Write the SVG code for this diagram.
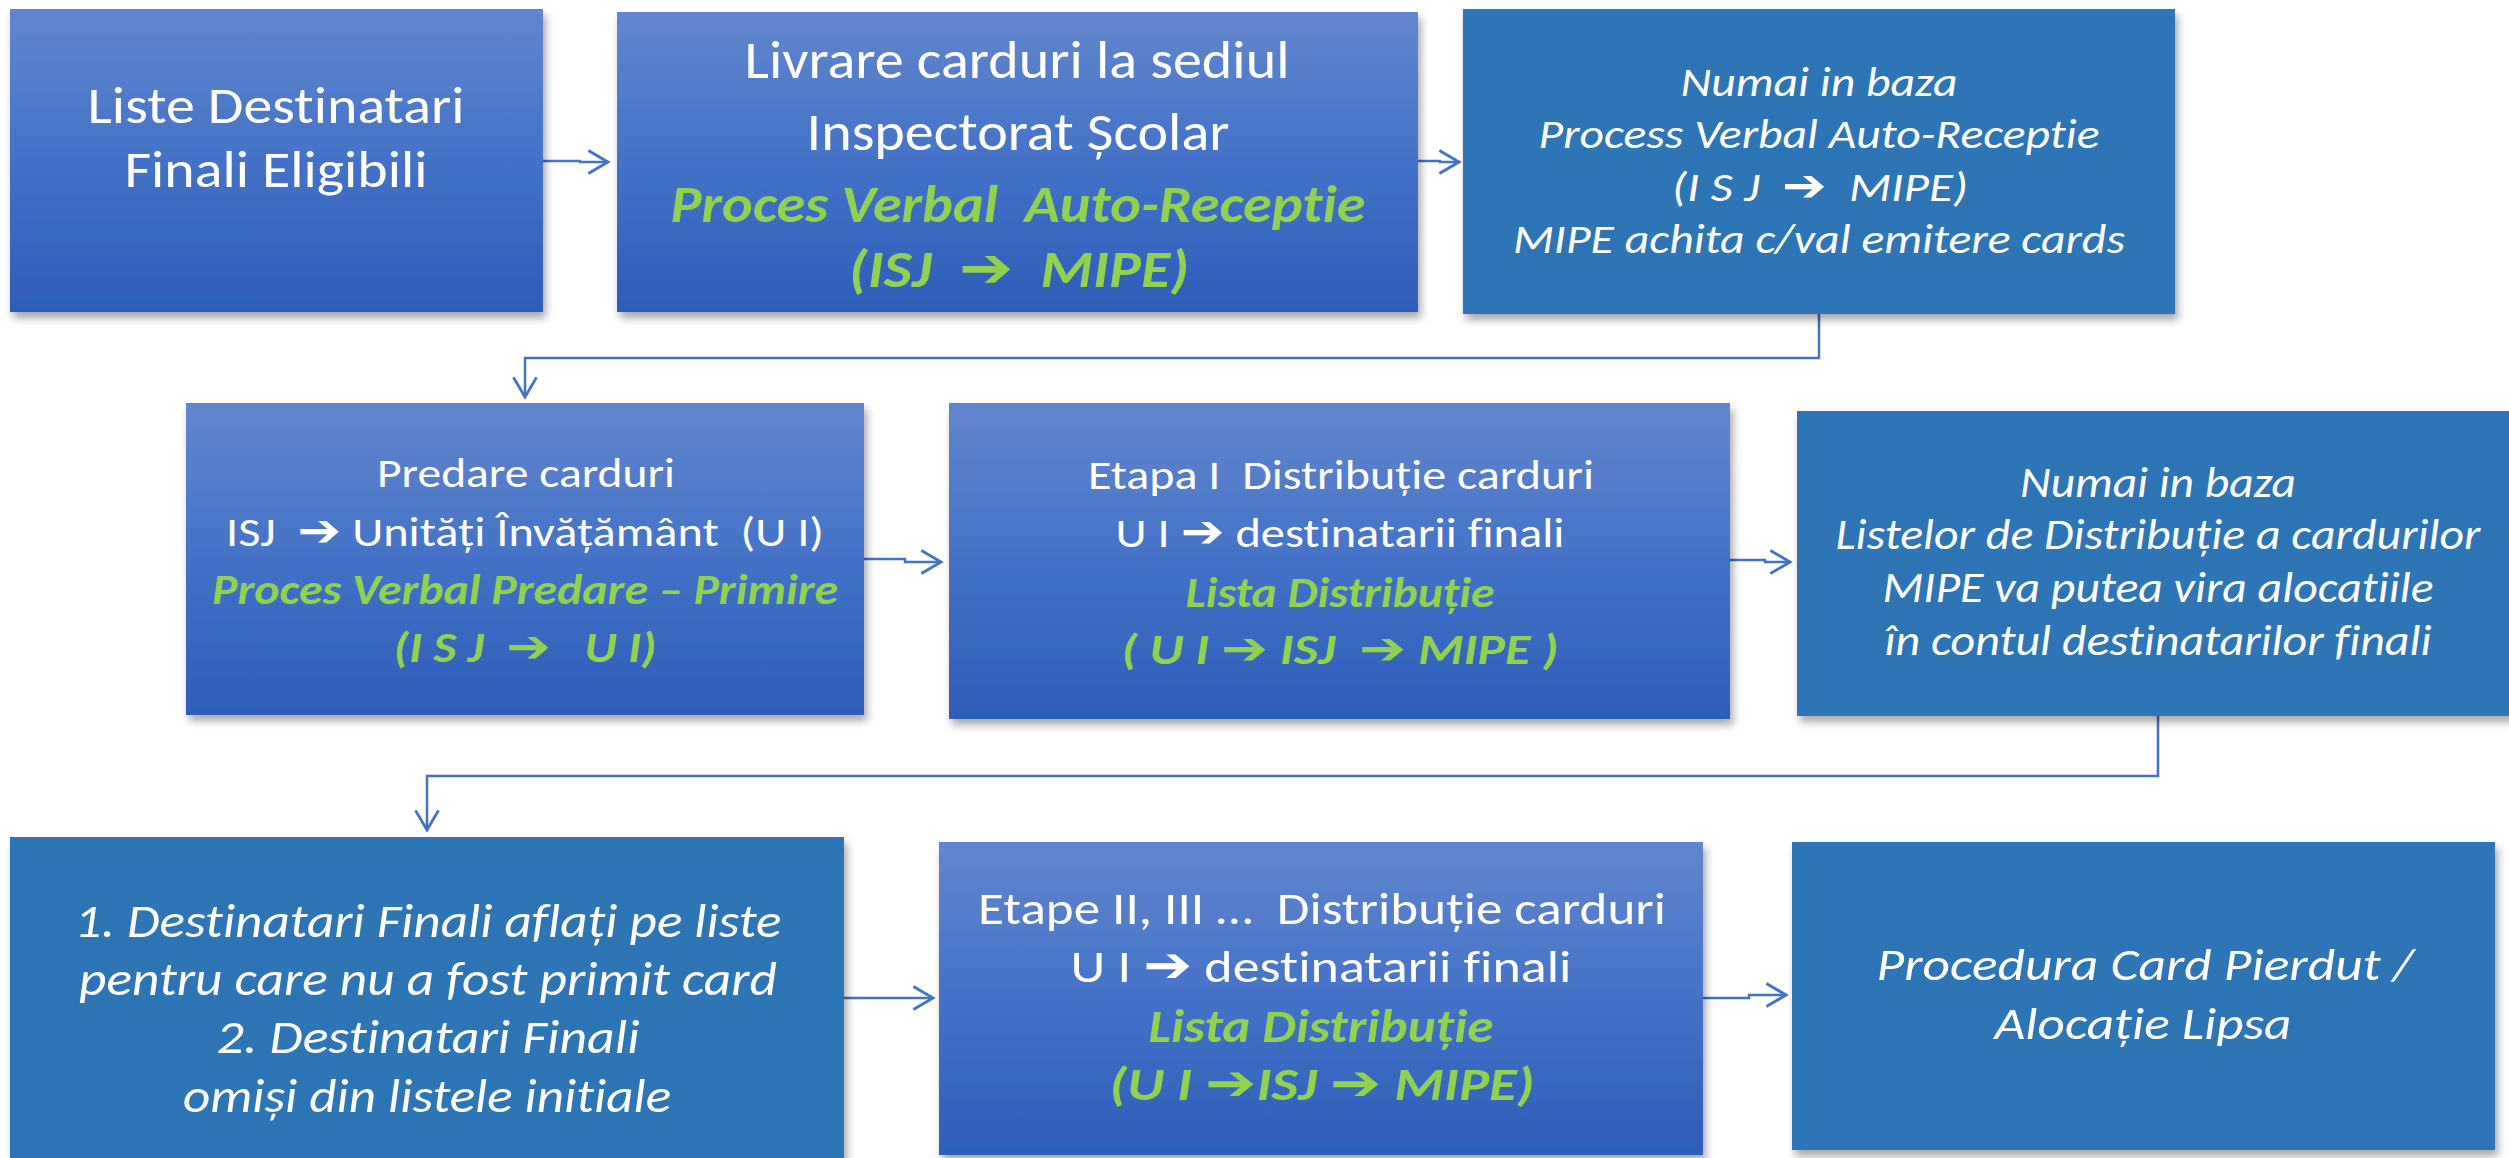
<svg xmlns="http://www.w3.org/2000/svg" width="2509" height="1158" viewBox="0 0 2509 1158">
<style>
.g{fill:url(#grad);filter:url(#sh)}
.s{fill:#2E75B6;filter:url(#sh)}
text{font-family:Carlito,Lato,"Noto Sans","DejaVu Sans",sans-serif;text-anchor:middle;fill:#FFFFFF;white-space:pre;font-variant-ligatures:none}
.i{font-style:italic}
.gr{fill:#92D050;font-weight:bold;font-style:italic}
.a{font-family:"DejaVu Sans",sans-serif;font-weight:bold;font-style:normal;font-size:108%}
.c{fill:none;stroke:#4472C4;stroke-width:2.5;marker-end:url(#ah)}
</style>
<defs>
<linearGradient id="grad" x1="0" y1="0" x2="0" y2="1">
<stop offset="0" stop-color="#6286CD"/>
<stop offset="0.5" stop-color="#4472C7"/>
<stop offset="1" stop-color="#2E5DB8"/>
</linearGradient>
<filter id="sh" x="-5%" y="-5%" width="115%" height="120%">
<feDropShadow dx="3" dy="6" stdDeviation="4" flood-color="#000" flood-opacity="0.35"/>
</filter>
<marker id="ah" markerUnits="userSpaceOnUse" markerWidth="30" markerHeight="30" viewBox="-20 -13 24 26" refX="0" refY="0" orient="auto">
<path d="M-17,-10 L0,0 L-17,10" fill="none" stroke="#4472C4" stroke-width="2.5"/>
</marker>
</defs>

<g id="connectors">
<path class="c" d="M543,161 H580 V162 H608"/>
<path class="c" d="M1418,161 H1440 V162 H1459"/>
<path class="c" d="M1819,314 V358 H525 V397"/>
<path class="c" d="M864,559 H905 V562 H941"/>
<path class="c" d="M1730,560 H1765 V562 H1790"/>
<path class="c" d="M2158,716 V776 H427 V830"/>
<path class="c" d="M844,998 H933"/>
<path class="c" d="M1703,998 H1749 V995 H1786"/>
</g>

<g id="n1">
<rect class="g" x="10" y="9" width="533" height="303"/>
<text x="276" y="123" font-size="52" textLength="377" lengthAdjust="spacingAndGlyphs">Liste Destinatari</text>
<text x="276" y="187" font-size="52" textLength="303" lengthAdjust="spacingAndGlyphs">Finali Eligibili</text>
</g>

<g id="n2">
<rect class="g" x="617" y="12" width="801" height="300"/>
<text x="1017" y="78" font-size="54" textLength="545" lengthAdjust="spacingAndGlyphs">Livrare carduri la sediul</text>
<text x="1018" y="150" font-size="54" textLength="423" lengthAdjust="spacingAndGlyphs">Inspectorat Școlar</text>
<text class="gr" x="1018" y="222" font-size="53" textLength="695" lengthAdjust="spacingAndGlyphs">Proces Verbal  Auto-Receptie</text>
<text class="gr" x="1019" y="287" font-size="52" textLength="340" lengthAdjust="spacingAndGlyphs">(ISJ  <tspan class="a">➔</tspan>  MIPE)</text>
</g>

<g id="n3">
<rect class="s" x="1463" y="9" width="712" height="305"/>
<text class="i" x="1819" y="96" font-size="42" textLength="277" lengthAdjust="spacingAndGlyphs">Numai in baza</text>
<text class="i" x="1819" y="148" font-size="42" textLength="561" lengthAdjust="spacingAndGlyphs">Process Verbal Auto-Receptie</text>
<text class="i" x="1820" y="201" font-size="42" textLength="296" lengthAdjust="spacingAndGlyphs">(I S J  <tspan class="a">➔</tspan>  MIPE)</text>
<text class="i" x="1819" y="253" font-size="42" textLength="612" lengthAdjust="spacingAndGlyphs">MIPE achita c/val emitere cards</text>
</g>

<g id="n4">
<rect class="g" x="186" y="403" width="678" height="312"/>
<text x="526" y="487" font-size="42" textLength="298" lengthAdjust="spacingAndGlyphs">Predare carduri</text>
<text x="525" y="546" font-size="42" textLength="598" lengthAdjust="spacingAndGlyphs">ISJ  <tspan class="a">➔</tspan> Unități Învățământ  (U I)</text>
<text class="gr" x="525" y="604" font-size="42" textLength="626" lengthAdjust="spacingAndGlyphs">Proces Verbal Predare – Primire</text>
<text class="gr" x="525" y="662" font-size="42" textLength="263" lengthAdjust="spacingAndGlyphs">(I S J  <tspan class="a">➔</tspan>   U I)</text>
</g>

<g id="n5">
<rect class="g" x="949" y="403" width="781" height="316"/>
<text x="1341" y="489" font-size="42" textLength="506" lengthAdjust="spacingAndGlyphs">Etapa I  Distribuție carduri</text>
<text x="1340" y="547" font-size="42" textLength="449" lengthAdjust="spacingAndGlyphs">U I <tspan class="a">➔</tspan> destinatarii finali</text>
<text class="gr" x="1340" y="607" font-size="42" textLength="309" lengthAdjust="spacingAndGlyphs">Lista Distribuție</text>
<text class="gr" x="1340" y="664" font-size="42" textLength="437" lengthAdjust="spacingAndGlyphs">( U I <tspan class="a">➔</tspan> ISJ  <tspan class="a">➔</tspan> MIPE )</text>
</g>

<g id="n6">
<rect class="s" x="1797" y="411" width="722" height="305"/>
<text class="i" x="2158" y="497" font-size="44" textLength="276" lengthAdjust="spacingAndGlyphs">Numai in baza</text>
<text class="i" x="2158" y="549" font-size="44" textLength="645" lengthAdjust="spacingAndGlyphs">Listelor de Distribuție a cardurilor</text>
<text class="i" x="2158" y="602" font-size="44" textLength="551" lengthAdjust="spacingAndGlyphs">MIPE va putea vira alocatiile</text>
<text class="i" x="2158" y="655" font-size="44" textLength="547" lengthAdjust="spacingAndGlyphs">în contul destinatarilor finali</text>
</g>

<g id="n7">
<rect class="s" x="10" y="837" width="834" height="330"/>
<text class="i" x="428" y="937" font-size="47" textLength="707" lengthAdjust="spacingAndGlyphs">1. Destinatari Finali aflați pe liste</text>
<text class="i" x="428" y="995" font-size="47" textLength="698" lengthAdjust="spacingAndGlyphs">pentru care nu a fost primit card</text>
<text class="i" x="428" y="1053" font-size="47" textLength="423" lengthAdjust="spacingAndGlyphs">2. Destinatari Finali</text>
<text class="i" x="427" y="1112" font-size="47" textLength="488" lengthAdjust="spacingAndGlyphs">omiși din listele initiale</text>
</g>

<g id="n8">
<rect class="g" x="939" y="842" width="764" height="313"/>
<text x="1322" y="924" font-size="46" textLength="688" lengthAdjust="spacingAndGlyphs">Etape II, III …  Distribuție carduri</text>
<text x="1321" y="982" font-size="46" textLength="501" lengthAdjust="spacingAndGlyphs">U I <tspan class="a">➔</tspan> destinatarii finali</text>
<text class="gr" x="1321" y="1042" font-size="46" textLength="345" lengthAdjust="spacingAndGlyphs">Lista Distribuție</text>
<text class="gr" x="1322" y="1100" font-size="46" textLength="425" lengthAdjust="spacingAndGlyphs">(U I <tspan class="a">➔</tspan>ISJ <tspan class="a">➔</tspan> MIPE)</text>
</g>

<g id="n9">
<rect class="s" x="1792" y="842" width="703" height="308"/>
<text class="i" x="2145" y="980" font-size="46" textLength="537" lengthAdjust="spacingAndGlyphs">Procedura Card Pierdut /</text>
<text class="i" x="2143" y="1039" font-size="46" textLength="297" lengthAdjust="spacingAndGlyphs">Alocație Lipsa</text>
</g>
</svg>
